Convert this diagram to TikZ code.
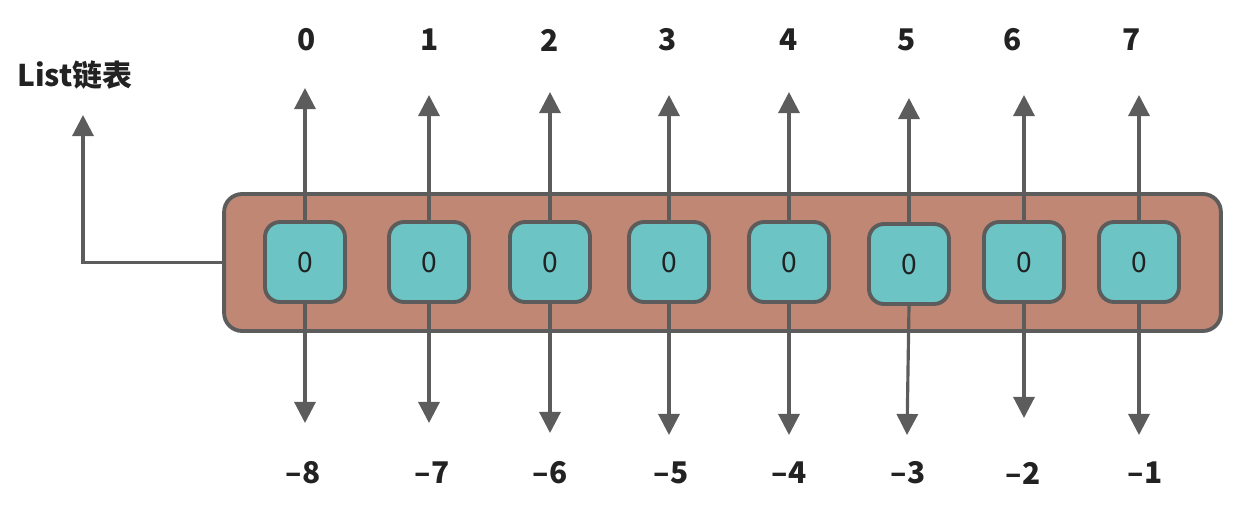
\documentclass[tikz,border=0pt]{standalone}
\usepackage{fontspec}
\setmainfont{Noto Sans CJK SC}
\usepackage{xcolor}
\usetikzlibrary{arrows.meta}
\definecolor{listfill}{HTML}{C08874}
\definecolor{cellfill}{HTML}{6CC4C4}
\definecolor{linegray}{HTML}{5C5C5C}
\definecolor{textgray}{HTML}{222222}

\begin{document}
\begin{tikzpicture}[x=0.02cm,y=-0.02cm,
	listbox/.style={draw=linegray,fill=listfill,line width=2.2pt,rounded corners=0.36cm,minimum width=19.94cm,minimum height=2.74cm},
	cell/.style={draw=linegray,fill=cellfill,line width=2.2pt,rounded corners=0.3cm,minimum size=1.6cm,text=textgray,font=\fontsize{16}{18}\selectfont},
	arr/.style={draw=linegray,line width=1.8pt,-{Triangle[length=12pt,width=12pt]}},
	idx/.style={text=textgray,font=\fontsize{17}{20}\selectfont\bfseries}]
				\useasboundingbox (0,0) rectangle (1235,514);
				\node[listbox] (L) at (722.5,262.5) {};
				\node[cell] (c0) at (305,262) {0};
				\node[cell] (c1) at (429,262) {0};
				\node[cell] (c2) at (550,262) {0};
				\node[cell] (c3) at (669,262) {0};
				\node[cell] (c4) at (789,262) {0};
				\node[cell] (c5) at (909,264) {0};
				\node[cell] (c6) at (1024,262) {0};
				\node[cell] (c7) at (1139,262) {0};
				% arrow ends
				\coordinate (t0) at (305,88);
				\coordinate (t1) at (429,95);
				\coordinate (t2) at (550,92);
				\coordinate (t3) at (669,95);
				\coordinate (t4) at (789,92);
				\coordinate (t5) at (909,98);
				\coordinate (t6) at (1024,95);
				\coordinate (t7) at (1139,95);
				\coordinate (d0) at (305,423);
				\coordinate (d1) at (429,423);
				\coordinate (d2) at (550,433);
				\coordinate (d3) at (669,435);
				\coordinate (d4) at (789,435);
				\coordinate (d5) at (907,435);
				\coordinate (d6) at (1024,418);
				\coordinate (d7) at (1139,435);
				\draw[arr] (c0.north) -- (t0);
				\draw[arr] (c1.north) -- (t1);
				\draw[arr] (c2.north) -- (t2);
				\draw[arr] (c3.north) -- (t3);
				\draw[arr] (c4.north) -- (t4);
				\draw[arr] (c5.north) -- (t5);
				\draw[arr] (c6.north) -- (t6);
				\draw[arr] (c7.north) -- (t7);
				\draw[arr] (c0.south) -- (d0);
				\draw[arr] (c1.south) -- (d1);
				\draw[arr] (c2.south) -- (d2);
				\draw[arr] (c3.south) -- (d3);
				\draw[arr] (c4.south) -- (d4);
				\draw[arr] (c5.south) -- (d5);
				\draw[arr] (c6.south) -- (d6);
				\draw[arr] (c7.south) -- (d7);
				% indices
				\node[idx] (p0) at (307,40) {0};
				\node[idx] (p1) at (430,40) {1};
				\node[idx] (p2) at (550,40) {2};
				\node[idx] (p3) at (668,40) {3};
				\node[idx] (p4) at (789,40) {4};
				\node[idx] (p5) at (907,40) {5};
				\node[idx] (p6) at (1013,40) {6};
				\node[idx] (p7) at (1132,40) {7};
				\node[idx] (m0) at (303,473) {–8};
				\node[idx] (m1) at (432,473) {–7};
				\node[idx] (m2) at (550,473) {–6};
				\node[idx] (m3) at (671,473) {–5};
				\node[idx] (m4) at (789,473) {–4};
				\node[idx] (m5) at (908,473) {–3};
				\node[idx] (m6) at (1023,473) {–2};
				\node[idx] (m7) at (1145,473) {–1};
				% list label
				\node[idx] (name) at (75,75) {List链表};
				\coordinate (up) at (83,115);
				\draw[arr] (L.west) -| (up);
			\end{tikzpicture}
\end{document}
